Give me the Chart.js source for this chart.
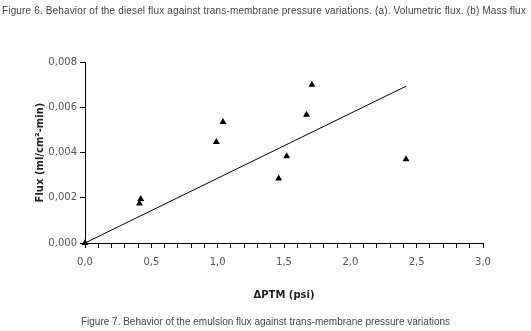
<!DOCTYPE html>
<html>
<head>
<meta charset="utf-8">
<script src="https://cdn.jsdelivr.net/npm/chart.js@4.4.0/dist/chart.umd.min.js"></script>
<style>
    body { margin: 0; background: #fff; }
    #wrap { position: relative; width: 531px; height: 331px; }
    .caption {
        position: absolute;
        font-family: 'Liberation Sans', sans-serif;
        font-size: 10px;
        color: #444;
        white-space: nowrap;
    }
    #capTop { left: 2px; top: 5px; letter-spacing: 0.15px; }
    #capBottom { left: 0; width: 531px; top: 316px; text-align: center; }
</style>
</head>
<body>
<div id="wrap">
    <canvas id="fluxChart" width="531" height="331"></canvas>
    <div class="caption" id="capTop">Figure 6. Behavior of the diesel flux against trans-membrane pressure variations. (a). Volumetric flux. (b) Mass flux</div>
    <div class="caption" id="capBottom">Figure 7. Behavior of the emulsion flux against trans-membrane pressure variations</div>
</div>
<script>
// measured points (ΔPTM in psi, flux in ml/cm2-min)
const ptm = [0.0, 0.42, 0.41, 0.99, 1.04, 1.46, 1.52, 1.67, 1.71, 2.42];
const flux = [0.0, 0.00195, 0.00175, 0.00446, 0.00535, 0.00285, 0.00383, 0.00567, 0.0070, 0.00370];

// trend line end points
const trendX = [0.0, 2.42];
const trendY = [0.0, 0.00693];

const xTicks = [0, 3, 0.1];
const yTicks = [0, 0.008, 0.002];

const points = ptm.map((x, i) => ({ x: x, y: flux[i] }));
const trend = trendX.map((x, i) => ({ x: x, y: trendY[i] }));

const tickFont = { family: 'DejaVu Sans', size: 10 };

const ctx = document.getElementById('fluxChart').getContext('2d');
new Chart(ctx, {
    type: 'scatter',
    data: {
        datasets: [
            {
                label: 'Flux',
                data: points,
                pointStyle: 'triangle',
                pointRadius: 4,
                backgroundColor: '#000',
                borderColor: '#000',
                borderWidth: 0,
                clip: false
            },
            {
                label: 'Trend',
                type: 'line',
                data: trend,
                showLine: true,
                pointRadius: 0,
                borderColor: '#000',
                borderWidth: 1,
                fill: false
            }
        ]
    },
    options: {
        responsive: false,
        animation: false,
        layout: { padding: { top: 62, right: 48, bottom: 28, left: 0 } },
        plugins: {
            legend: { display: false },
            tooltip: { enabled: false }
        },
        scales: {
            x: {
                type: 'linear',
                min: xTicks[0],
                max: xTicks[1],
                afterFit: (scale) => { scale.height = 60; },
                border: { color: '#000', width: 1 },
                grid: { drawOnChartArea: false, tickLength: 5, color: '#000' },
                ticks: {
                    stepSize: xTicks[2],
                    autoSkip: false,
                    maxRotation: 0,
                    padding: 8,
                    color: '#555',
                    font: tickFont,
                    callback: (v) => {
                        const d = v * 2;
                        if (Math.abs(d - Math.round(d)) < 1e-6) {
                            return v.toFixed(1).replace('.', ',');
                        }
                        return '';
                    }
                },
                title: {
                    display: true,
                    text: '\u0394PTM (psi)',
                    color: '#222',
                    font: { family: 'DejaVu Sans', size: 10, weight: 'bold' },
                    padding: { top: 0, bottom: 2 }
                }
            },
            y: {
                min: yTicks[0],
                max: yTicks[1],
                afterFit: (scale) => { scale.width = 85; },
                border: { color: '#000', width: 1 },
                grid: { drawOnChartArea: false, tickLength: 5, color: '#000' },
                ticks: {
                    stepSize: yTicks[2],
                    padding: 3,
                    color: '#555',
                    font: tickFont,
                    callback: (v) => v.toFixed(3).replace('.', ',')
                },
                title: {
                    display: true,
                    text: 'Flux (ml/cm\u00b2-min)',
                    color: '#222',
                    font: { family: 'DejaVu Sans', size: 10, weight: 'bold' },
                    padding: { top: 34, bottom: 0 }
                }
            }
        }
    }
});
</script>
</body>
</html>
